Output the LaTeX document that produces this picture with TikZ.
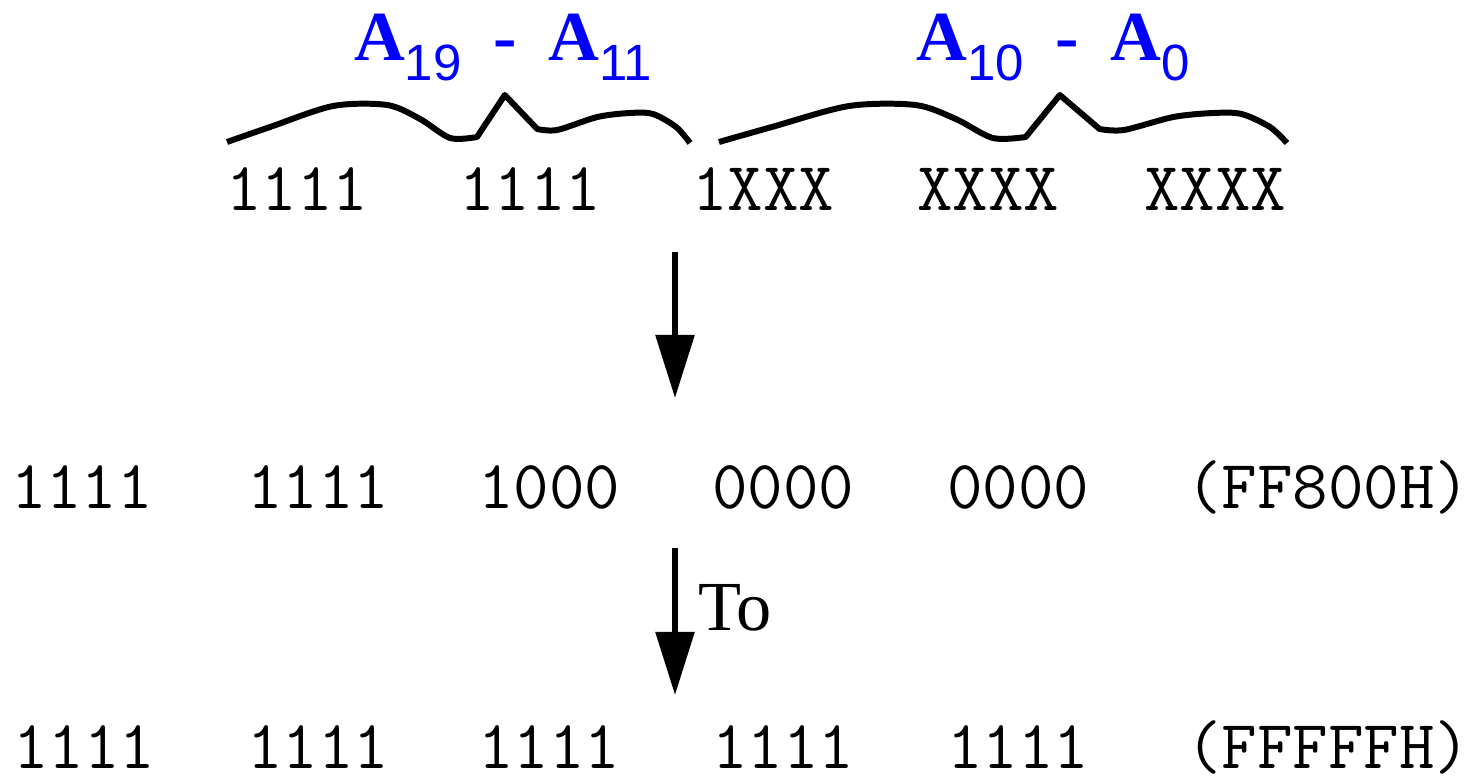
\documentclass[tikz,border=0pt]{standalone}
\usepackage{fontspec}
\setmainfont{Liberation Serif}
\newfontfamily\subfont{Liberation Sans}
\usepackage{tikz}
\usetikzlibrary{arrows.meta}
\newcommand{\bits}[1]{{\fontsize{19.6}{21}\ttfamily #1}}
\newcommand{\addr}[1]{{\bfseries A}\raisebox{-5.7pt}{\fontsize{14.5}{16}\subfont #1}}
\newcommand{\addrbrace}[2]{%
  \begin{scope}[shift={(#1,0)}, xscale=#2]
    \draw[brc] plot[smooth] coordinates {(0,142) (9.3,127) (22.9,106) (34.6,105) (41.7,119) (48.2,138) (54,137)}
      -- (60,95) -- (67,129)
      -- plot[smooth] coordinates {(67,129) (71.3,130) (80,117) (87,113) (92,114) (97,127) (100,143)};
  \end{scope}}

\begin{document}
\begin{tikzpicture}[x=0.01cm, y=-0.01cm,
    bitrow/.style={inner sep=0pt, anchor=base},
    lbl/.style={inner sep=0pt, anchor=base, text=blue, font=\fontsize{20}{22}\selectfont},
    brc/.style={line width=1.7pt, line join=round},
    arr/.style={line width=1.6pt, -{Triangle[width=0.38cm, length=0.63cm]}}]
  \useasboundingbox (0,0) rectangle (1472,778);

  % address line labels and braces
  \node[lbl] (hi) at (503,60) {\addr{19}\hspace{9pt}{\bfseries -}\hspace{9pt}\addr{11}};
  \node[lbl] (lo) at (1053,60) {\addr{10}\hspace{9pt}{\bfseries -}\hspace{9pt}\addr{0}};
  \addrbrace{227}{4.63}
  \addrbrace{719}{5.68}

  % decoded pattern
  \node[bitrow] (t1) at (297,210) {\bits{1111}};
  \node[bitrow] (t2) at (530,210) {\bits{1111}};
  \node[bitrow] (t3) at (763,210) {\bits{1XXX}};
  \node[bitrow] (t4) at (988,210) {\bits{XXXX}};
  \node[bitrow] (t5) at (1215,210) {\bits{XXXX}};

  % first address
  \node[bitrow] (m1) at (82,508) {\bits{1111}};
  \node[bitrow] (m2) at (318,508) {\bits{1111}};
  \node[bitrow] (m3) at (549,508) {\bits{1000}};
  \node[bitrow] (m4) at (783,508) {\bits{0000}};
  \node[bitrow] (m5) at (1018,508) {\bits{0000}};
  \node[bitrow] (m6) at (1328,508) {\bits{(FF800H)}};

  % last address
  \node[bitrow] (b1) at (84,768) {\bits{1111}};
  \node[bitrow] (b2) at (318,768) {\bits{1111}};
  \node[bitrow] (b3) at (549,768) {\bits{1111}};
  \node[bitrow] (b4) at (783,768) {\bits{1111}};
  \node[bitrow] (b5) at (1018,768) {\bits{1111}};
  \node[bitrow] (b6) at (1328,768) {\bits{(FFFFFH)}};

  \coordinate (a1s) at (675,252);
  \coordinate (a1e) at (675,398);
  \coordinate (a2s) at (675,548);
  \coordinate (a2e) at (675,695);
  \draw[arr] (a1s) -- (a1e);
  \draw[arr] (a2s) -- (a2e);
  \node[inner sep=0pt, anchor=base west, font=\fontsize{20}{22}\selectfont] (to) at (698,630) {To};
\end{tikzpicture}
\end{document}
